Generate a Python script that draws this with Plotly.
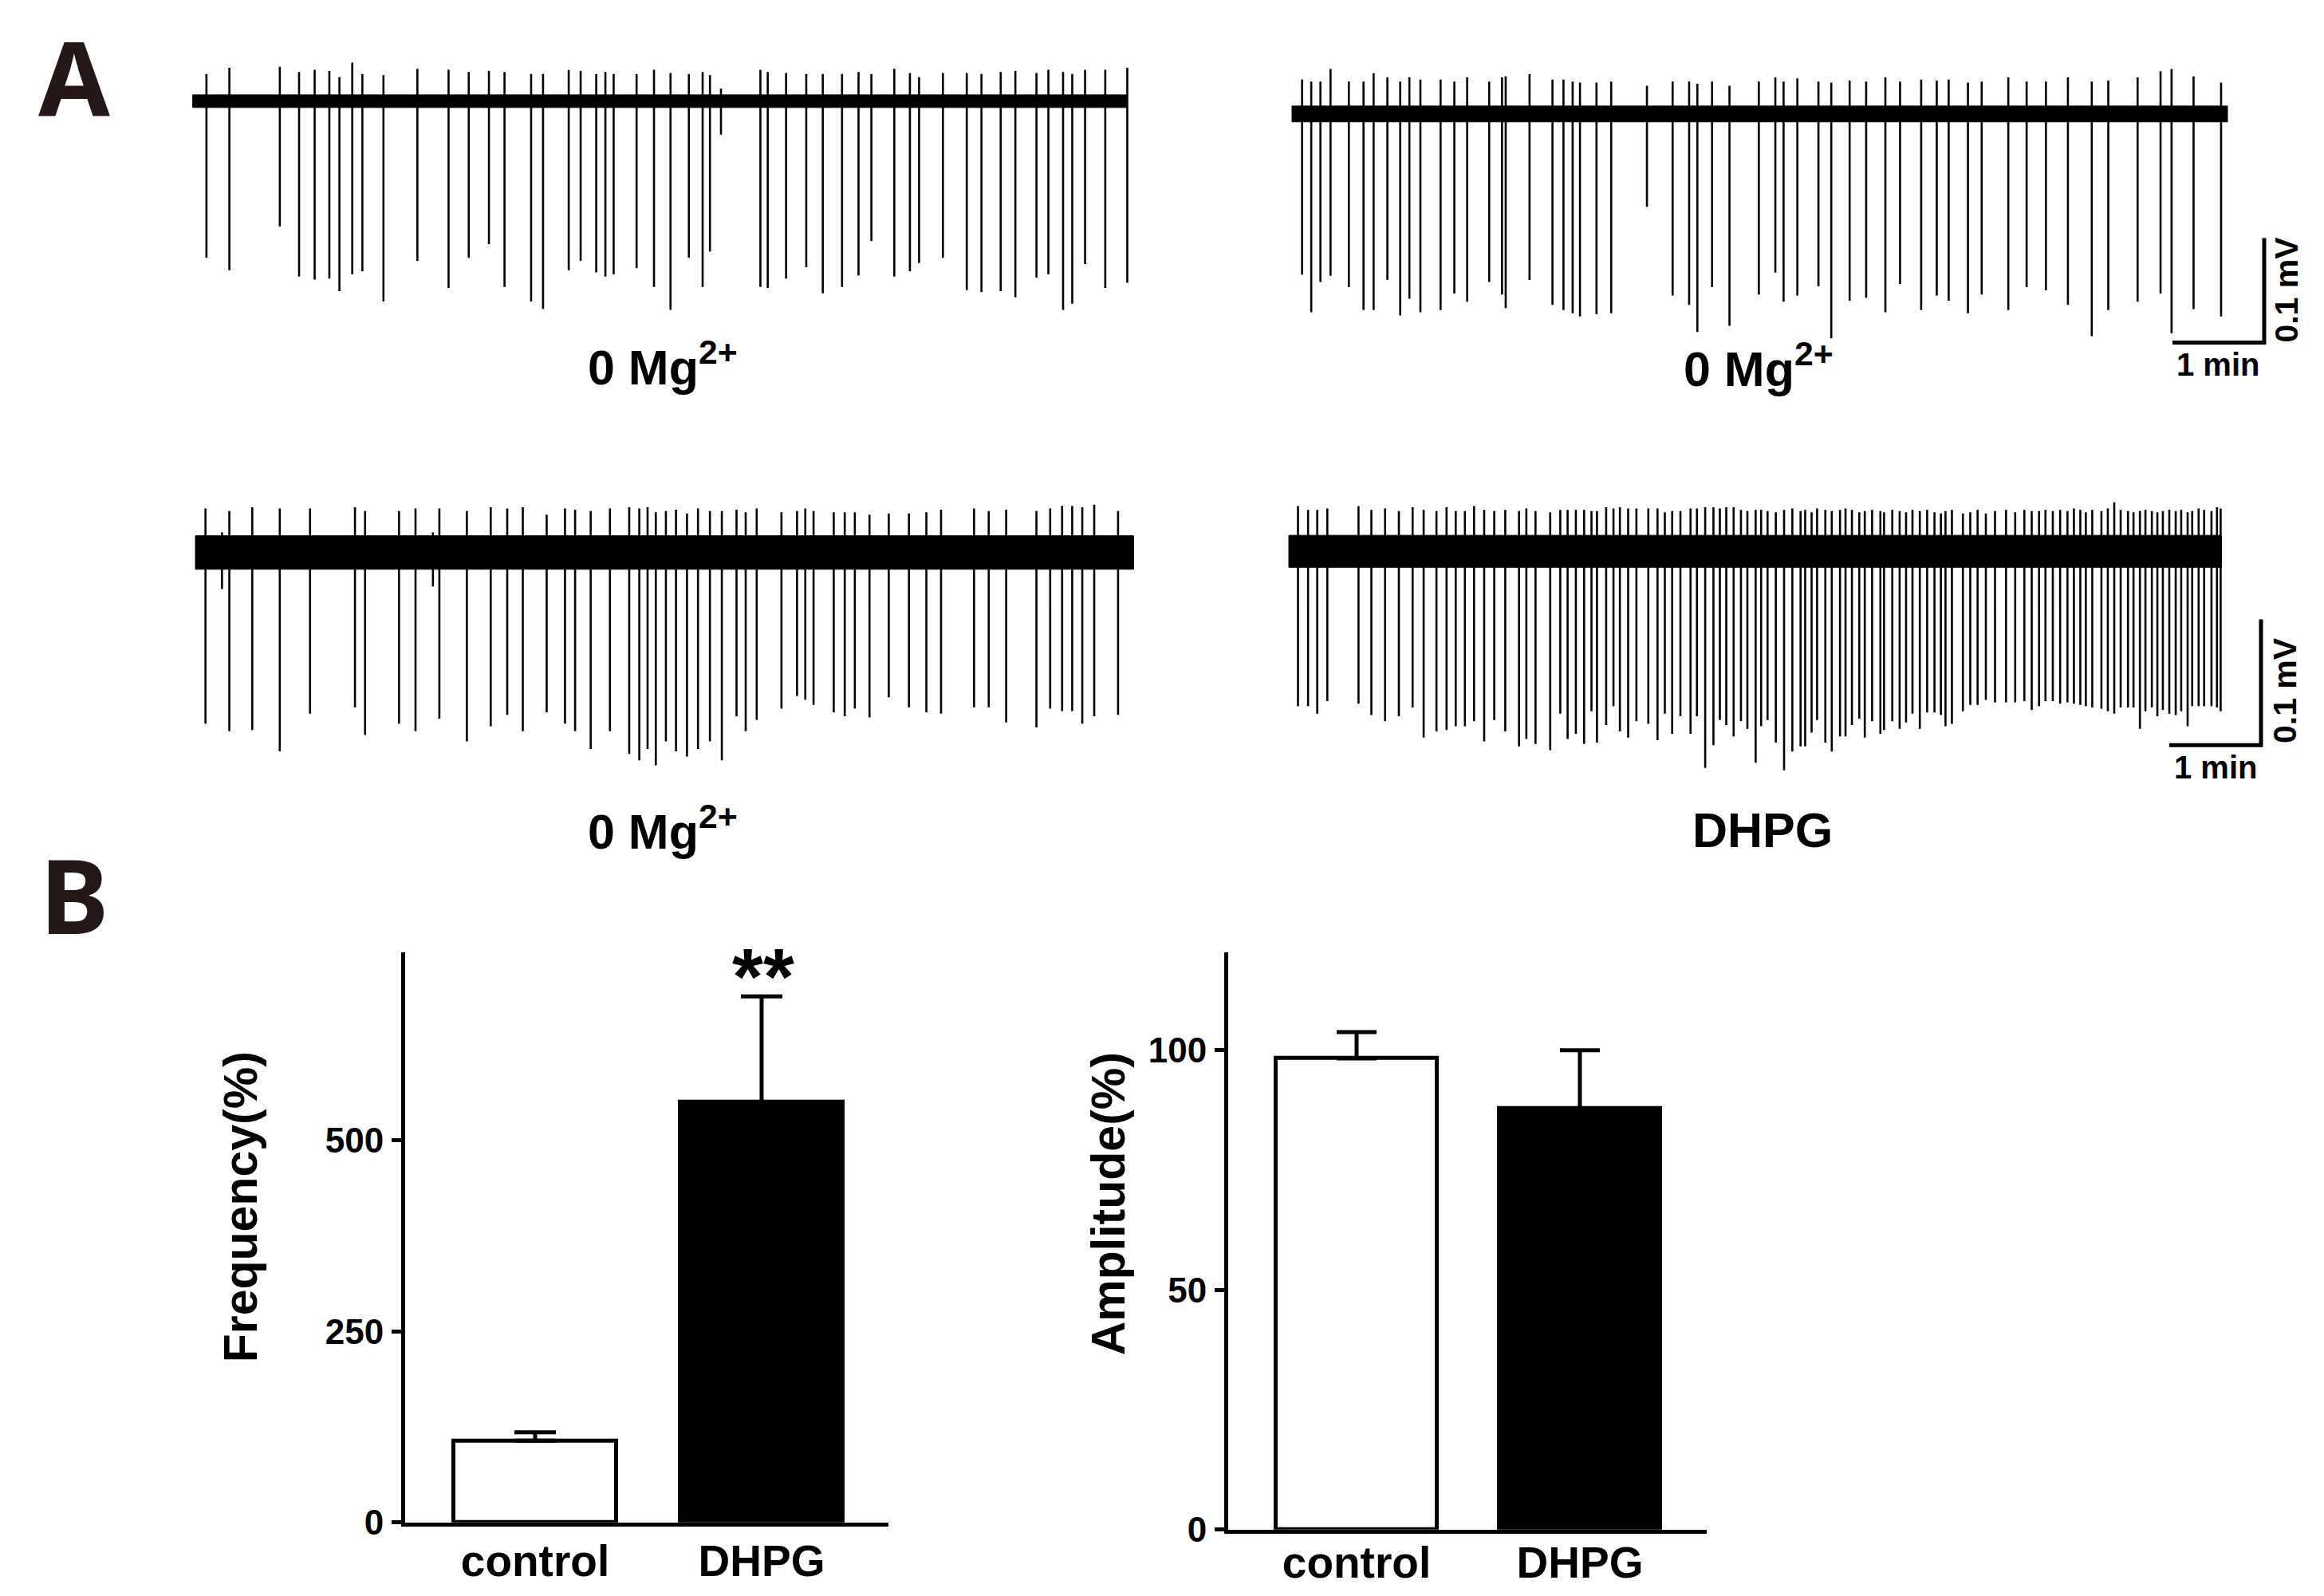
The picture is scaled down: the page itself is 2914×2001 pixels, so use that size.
import plotly.graph_objects as go

W, H = 2914, 2001

# ---------------- Panel A : spike trains (time in min, amplitude in mV) ----------------
trace1_t = [0.15, 0.40, 0.95, 1.16, 1.33, 1.49, 1.60, 1.74, 1.85, 2.08,
            2.45, 2.79, 3.01, 3.23, 3.40, 3.69, 3.82, 4.10, 4.23, 4.40,
            4.50, 4.59, 4.84, 5.03, 5.21, 5.41, 5.56, 5.64, 5.76, 6.19,
            6.27, 6.47, 6.69, 6.87, 7.08, 7.26, 7.40, 7.65, 7.82, 7.92,
            8.18, 8.44, 8.60, 8.81, 8.97, 9.20, 9.33, 9.49, 9.59, 9.73,
            9.95, 10.19]
trace1_down = [0.150, 0.162, 0.120, 0.168, 0.171, 0.170, 0.182, 0.166, 0.163, 0.192,
               0.153, 0.179, 0.150, 0.137, 0.178, 0.192, 0.199, 0.162, 0.153, 0.164,
               0.168, 0.166, 0.160, 0.178, 0.200, 0.150, 0.178, 0.144, 0.032, 0.178,
               0.179, 0.170, 0.159, 0.184, 0.178, 0.167, 0.134, 0.168, 0.163, 0.155,
               0.150, 0.181, 0.183, 0.182, 0.188, 0.169, 0.166, 0.200, 0.194, 0.156,
               0.179, 0.174]
trace1_up = [0.026, 0.032, 0.033, 0.028, 0.030, 0.029, 0.023, 0.037, 0.026, 0.025,
             0.031, 0.030, 0.028, 0.029, 0.028, 0.026, 0.026, 0.030, 0.029, 0.026,
             0.028, 0.026, 0.026, 0.030, 0.027, 0.026, 0.028, 0.025, 0.012, 0.030,
             0.028, 0.027, 0.026, 0.026, 0.026, 0.028, 0.026, 0.031, 0.027, 0.023,
             0.027, 0.027, 0.026, 0.028, 0.029, 0.027, 0.030, 0.028, 0.026, 0.030,
             0.030, 0.032]

trace2_t = [0.11, 0.21, 0.31, 0.42, 0.62, 0.78, 0.89, 1.04, 1.18, 1.28,
            1.40, 1.62, 1.77, 1.91, 2.15, 2.29, 2.33, 2.59, 2.84, 2.96,
            3.06, 3.14, 3.32, 3.48, 3.87, 4.15, 4.33, 4.42, 4.58, 4.77,
            5.09, 5.27, 5.36, 5.51, 5.74, 5.88, 6.08, 6.26, 6.47, 6.63,
            6.86, 7.03, 7.16, 7.37, 7.52, 7.81, 8.01, 8.22, 8.46, 8.72,
            8.90, 9.22, 9.47, 9.59, 9.83, 10.13]
trace2_down = [0.154, 0.190, 0.161, 0.155, 0.166, 0.188, 0.188, 0.159, 0.193, 0.177,
               0.190, 0.188, 0.172, 0.180, 0.161, 0.173, 0.186, 0.159, 0.183, 0.188,
               0.191, 0.194, 0.192, 0.191, 0.089, 0.174, 0.183, 0.209, 0.166, 0.203,
               0.173, 0.152, 0.180, 0.174, 0.165, 0.215, 0.179, 0.176, 0.190, 0.163,
               0.188, 0.174, 0.179, 0.191, 0.173, 0.188, 0.166, 0.169, 0.183, 0.213,
               0.188, 0.180, 0.172, 0.210, 0.187, 0.194]
trace2_up = [0.033, 0.031, 0.031, 0.043, 0.031, 0.031, 0.039, 0.035, 0.031, 0.035,
             0.033, 0.033, 0.031, 0.035, 0.031, 0.035, 0.036, 0.038, 0.033, 0.033,
             0.031, 0.030, 0.030, 0.031, 0.027, 0.031, 0.031, 0.029, 0.031, 0.027,
             0.031, 0.035, 0.031, 0.034, 0.031, 0.030, 0.032, 0.031, 0.035, 0.031,
             0.033, 0.032, 0.033, 0.030, 0.031, 0.035, 0.031, 0.031, 0.035, 0.031,
             0.032, 0.035, 0.041, 0.043, 0.036, 0.030]

trace3_t = [0.11, 0.29, 0.37, 0.62, 0.92, 1.25, 1.74, 1.85, 2.22, 2.40,
            2.59, 2.66, 2.96, 3.22, 3.40, 3.57, 3.83, 4.03, 4.14, 4.31,
            4.52, 4.73, 4.84, 4.93, 5.02, 5.13, 5.24, 5.36, 5.48, 5.61,
            5.74, 5.90, 6.00, 6.12, 6.39, 6.56, 6.65, 6.74, 6.96, 7.08,
            7.19, 7.35, 7.56, 7.78, 7.97, 8.13, 8.49, 8.65, 8.84, 9.17,
            9.32, 9.45, 9.56, 9.67, 9.80, 10.06]
trace3_down = [0.136, 0.029, 0.142, 0.141, 0.158, 0.128, 0.123, 0.145, 0.136, 0.142,
               0.027, 0.132, 0.150, 0.138, 0.129, 0.142, 0.127, 0.136, 0.142, 0.156,
               0.142, 0.160, 0.165, 0.156, 0.169, 0.150, 0.158, 0.162, 0.156, 0.150,
               0.165, 0.130, 0.142, 0.133, 0.124, 0.114, 0.117, 0.121, 0.127, 0.130,
               0.124, 0.131, 0.115, 0.123, 0.127, 0.128, 0.123, 0.123, 0.135, 0.139,
               0.124, 0.126, 0.126, 0.136, 0.130, 0.129]
trace3_up = [0.035, 0.016, 0.033, 0.036, 0.035, 0.035, 0.036, 0.033, 0.033, 0.035,
             0.016, 0.035, 0.033, 0.036, 0.035, 0.036, 0.030, 0.035, 0.034, 0.033,
             0.035, 0.036, 0.035, 0.036, 0.032, 0.033, 0.034, 0.031, 0.035, 0.033,
             0.033, 0.034, 0.032, 0.035, 0.032, 0.033, 0.035, 0.033, 0.032, 0.032,
             0.032, 0.030, 0.031, 0.031, 0.032, 0.034, 0.035, 0.033, 0.034, 0.033,
             0.035, 0.037, 0.037, 0.036, 0.038, 0.033]

trace4_t = [0.10, 0.21, 0.31, 0.42, 0.76, 0.90, 1.05, 1.20, 1.35, 1.47,
            1.61, 1.72, 1.82, 1.92, 2.02, 2.13, 2.24, 2.36, 2.51, 2.59,
            2.69, 2.85, 2.96, 3.04, 3.13, 3.22, 3.30, 3.36, 3.46, 3.54,
            3.61, 3.70, 3.79, 3.92, 4.02, 4.10, 4.18, 4.27, 4.38, 4.45,
            4.54, 4.63, 4.70, 4.77, 4.85, 4.93, 5.00, 5.09,
            5.15, 5.22, 5.31, 5.40, 5.49, 5.58, 5.63, 5.70, 5.76, 5.85,
            5.92, 6.01, 6.07, 6.14, 6.22, 6.28, 6.36, 6.45, 6.49, 6.58,
            6.66, 6.73, 6.80, 6.88, 6.96, 7.04, 7.11, 7.16, 7.23, 7.35,
            7.43, 7.51, 7.60, 7.70, 7.82, 7.92, 8.02, 8.10, 8.18, 8.25,
            8.33, 8.41, 8.49, 8.56, 8.63, 8.69, 8.76, 8.86, 8.93, 9.00,
            9.07, 9.15, 9.21, 9.28, 9.34, 9.41, 9.47, 9.53, 9.60, 9.67,
            9.73, 9.80, 9.85, 9.92, 9.98, 10.06, 10.12, 10.16]
trace4_down = [0.123, 0.123, 0.129, 0.119, 0.121, 0.130, 0.135, 0.131, 0.124, 0.148,
               0.143, 0.142, 0.139, 0.139, 0.135, 0.151, 0.134, 0.143, 0.155, 0.149,
               0.153, 0.158, 0.129, 0.149, 0.145, 0.153, 0.127, 0.152, 0.138, 0.123,
               0.143, 0.148, 0.135, 0.137, 0.150, 0.129, 0.145, 0.131, 0.145, 0.131,
               0.172, 0.154, 0.134, 0.138, 0.147, 0.135, 0.141, 0.168,
               0.139, 0.134, 0.152, 0.174, 0.159, 0.155, 0.155, 0.144, 0.134, 0.152,
               0.159, 0.147, 0.147, 0.138, 0.133, 0.148, 0.135, 0.145, 0.142, 0.135,
               0.141, 0.136, 0.129, 0.141, 0.128, 0.128, 0.130, 0.139, 0.137, 0.127,
               0.122, 0.122, 0.118, 0.120, 0.120, 0.120, 0.119, 0.126, 0.123, 0.119,
               0.119, 0.121, 0.120, 0.121, 0.122, 0.123, 0.124, 0.125, 0.127, 0.129,
               0.124, 0.124, 0.124, 0.141, 0.127, 0.124, 0.131, 0.126, 0.129, 0.130,
               0.127, 0.139, 0.123, 0.123, 0.123, 0.123, 0.124, 0.127]
trace4_up = [0.036, 0.033, 0.033, 0.034, 0.036, 0.033, 0.034, 0.032, 0.035, 0.033,
             0.032, 0.035, 0.032, 0.032, 0.036, 0.033, 0.032, 0.033, 0.032, 0.034,
             0.032, 0.031, 0.033, 0.033, 0.033, 0.033, 0.032, 0.032, 0.035, 0.034,
             0.035, 0.034, 0.034, 0.034, 0.034, 0.031, 0.032, 0.032, 0.034, 0.034,
             0.035, 0.035, 0.034, 0.035, 0.035, 0.033, 0.032, 0.033,
             0.033, 0.032, 0.031, 0.033, 0.034, 0.032, 0.033, 0.031, 0.034, 0.033,
             0.032, 0.033, 0.034, 0.033, 0.031, 0.032, 0.033, 0.032, 0.031, 0.033,
             0.032, 0.031, 0.033, 0.032, 0.033, 0.031, 0.030, 0.032, 0.033, 0.030,
             0.031, 0.033, 0.030, 0.032, 0.033, 0.031, 0.033, 0.032, 0.032, 0.033,
             0.032, 0.033, 0.032, 0.034, 0.033, 0.031, 0.033, 0.032, 0.034, 0.039,
             0.033, 0.032, 0.031, 0.032, 0.033, 0.032, 0.031, 0.032, 0.033, 0.032,
             0.033, 0.031, 0.032, 0.034, 0.033, 0.032, 0.035, 0.034]

trace_durations = [10.19, 10.20, 10.23, 10.17]        # min
noise_halfwidth = [0.0061, 0.0076, 0.0133, 0.0127]    # mV
trace_labels = ["0 Mg<sup>2+</sup>", "0 Mg<sup>2+</sup>", "0 Mg<sup>2+</sup>", "DHPG"]
scalebar_time = 1.0    # min
scalebar_volt = 0.1    # mV
scalebar_time_label = "1 min"
scalebar_volt_label = "0.1 mV"

# ---------------- Panel B : bar charts ----------------
categories = ["control", "DHPG"]
freq_mean = [107, 550]
freq_sem = [11, 138]
amp_mean = [98.3, 87.9]
amp_sem = [5.5, 12.1]
freq_ticks = [0, 250, 500]
amp_ticks = [0, 50, 100]
freq_title = "Frequency(%)"
amp_title = "Amplitude(%)"
sig_label = "**"

# ---------------- geometry (pixels) ----------------
YS = 1.011   # vertical compensation of the page capture
PX_PER_MIN = 115
geo = [
    dict(left=241.6, xdom=(234, 1424), base=127.0, ydom=(0, 560), pxmv=1310),
    dict(left=1620.0, xdom=(1612, 2914), base=143.0, ydom=(0, 560), pxmv=1310),
    dict(left=245.0, xdom=(238, 1432), base=693.5, ydom=(560, 1070), pxmv=1580),
    dict(left=1616.0, xdom=(1608, 2914), base=692.0, ydom=(560, 1070), pxmv=1580),
]
label_pos = [(831, 457), (2205, 459), (831, 1039), (2210, 1042)]
scalebar_geo = {2: dict(t0=9.6, v0=-0.219, tl=(2781, 458), vl=(2867, 364)),
                4: dict(t0=9.6, v0=-0.154, tl=(2778, 963), vl=(2865, 867))}

def px(xp, yp):
    return xp / W, 1 - yp * YS / H

def ydomain(top, bottom):
    return [1 - bottom * YS / H, 1 - top * YS / H]

fig = go.Figure()
layout_axes = {}

spike_sets = [(trace1_t, trace1_down, trace1_up), (trace2_t, trace2_down, trace2_up),
              (trace3_t, trace3_down, trace3_up), (trace4_t, trace4_down, trace4_up)]

for i, ((ts, downs, ups), g) in enumerate(zip(spike_sets, geo), start=1):
    xa, ya = f"x{i}", f"y{i}"
    dur = trace_durations[i - 1]
    hw = noise_halfwidth[i - 1]
    fig.add_trace(go.Scatter(x=[0, dur, dur, 0, 0], y=[-hw, -hw, hw, hw, -hw],
                             fill="toself", fillcolor="black", mode="lines",
                             line=dict(color="black", width=1), hoverinfo="skip",
                             showlegend=False, xaxis=xa, yaxis=ya))
    xs, ys = [], []
    for t, d, u in zip(ts, downs, ups):
        xs += [t, t, None]
        ys += [u, -d, None]
    fig.add_trace(go.Scatter(x=xs, y=ys, mode="lines", line=dict(color="black", width=2.6),
                             hoverinfo="skip", showlegend=False, xaxis=xa, yaxis=ya))
    if i in scalebar_geo:
        sb = scalebar_geo[i]
        fig.add_trace(go.Scatter(
            x=[sb["t0"], sb["t0"] + scalebar_time, sb["t0"] + scalebar_time],
            y=[sb["v0"], sb["v0"], sb["v0"] + scalebar_volt],
            mode="lines", line=dict(color="black", width=5), hoverinfo="skip",
            showlegend=False, xaxis=xa, yaxis=ya))
    x0 = (g["xdom"][0] - g["left"]) / PX_PER_MIN
    x1 = (g["xdom"][1] - g["left"]) / PX_PER_MIN
    y0 = -(g["ydom"][1] - g["base"]) / g["pxmv"]
    y1 = (g["base"] - g["ydom"][0]) / g["pxmv"]
    layout_axes[f"xaxis{i}"] = dict(domain=[g["xdom"][0] / W, g["xdom"][1] / W], range=[x0, x1],
                                    visible=False, anchor=ya, fixedrange=True)
    layout_axes[f"yaxis{i}"] = dict(domain=ydomain(g["ydom"][0], g["ydom"][1]),
                                    range=[y0, y1], visible=False, anchor=xa, fixedrange=True)

# bar charts
bar_colors = ["white", "black"]
fig.add_trace(go.Bar(x=[0, 1], y=freq_mean, width=0.72,
                     marker=dict(color=bar_colors, line=dict(color="black", width=5)),
                     error_y=dict(type="data", array=freq_sem, arrayminus=[0, 0], symmetric=False,
                                  color="black", thickness=5, width=26),
                     showlegend=False, hoverinfo="skip", xaxis="x5", yaxis="y5"))
fig.add_trace(go.Bar(x=[0, 1], y=amp_mean, width=0.72,
                     marker=dict(color=bar_colors, line=dict(color="black", width=5)),
                     error_y=dict(type="data", array=amp_sem, arrayminus=[0, 0], symmetric=False,
                                  color="black", thickness=5, width=25),
                     showlegend=False, hoverinfo="skip", xaxis="x6", yaxis="y6"))

FONT = "Liberation Sans, Arial, sans-serif"
def bar_xaxis(dom_px, rng, ya, standoff):
    return dict(domain=[dom_px[0] / W, dom_px[1] / W], range=rng, anchor=ya,
                showline=True, linewidth=5, linecolor="black", showgrid=False, zeroline=False,
                ticks="", tickvals=[0, 1], ticktext=categories,
                tickfont=dict(family=FONT, size=55, color="black", weight="bold"),
                ticklabelstandoff=standoff, fixedrange=True)

def bar_yaxis(dom_px, rng, tv, xa):
    return dict(domain=ydomain(dom_px[0], dom_px[1]), range=rng, anchor=xa,
                showline=True, linewidth=5, linecolor="black", showgrid=False, zeroline=False,
                ticks="outside", ticklen=12, tickwidth=5, tickcolor="black", tickvals=tv,
                tickfont=dict(family=FONT, size=44, color="black", weight="bold"),
                ticklabelstandoff=1, fixedrange=True)

layout_axes["xaxis5"] = bar_xaxis((508, 1114), [-0.574, 1.560], "y5", -4)
layout_axes["yaxis5"] = bar_yaxis((1195, 1911), [0, 746], freq_ticks, "x5")
layout_axes["xaxis6"] = bar_xaxis((1540, 2140), [-0.575, 1.568], "y6", -11)
layout_axes["yaxis6"] = bar_yaxis((1195, 1920), [0, 120.5], amp_ticks, "x6")

annotations = []
def ann(text, xp, yp, size, family=FONT, color="black", angle=0, bold=True):
    x, y = px(xp, yp)
    annotations.append(dict(text=(f"<b>{text}</b>" if bold else text), x=x, y=y,
                            xref="paper", yref="paper", showarrow=False,
                            xanchor="center", yanchor="middle", textangle=angle,
                            font=dict(size=size, family=family, color=color)))

ann("A", 93, 96, 130, family="Noto Sans, Liberation Sans", color="#231815")
ann("B", 93, 1122, 130, family="Noto Sans, Liberation Sans", color="#231815")
for lab, (lx, ly) in zip(trace_labels, label_pos):
    ann(lab, lx, ly, 61)
for sb in scalebar_geo.values():
    ann(scalebar_time_label, sb["tl"][0], sb["tl"][1], 40)
    ann(scalebar_volt_label, sb["vl"][0], sb["vl"][1], 41, angle=-90)
ann(freq_title, 302, 1515, 59, angle=-90)
ann(amp_title, 1390, 1511, 59, angle=-90)
ann(sig_label, 957, 1225, 100, bold=True)

fig.update_layout(width=W, height=H, margin=dict(l=0, r=0, t=0, b=0),
                  paper_bgcolor="white", plot_bgcolor="rgba(0,0,0,0)",
                  showlegend=False, annotations=annotations, bargap=0, **layout_axes)

fig.write_html("out.html", config={"displayModeBar": False},
               post_script="document.body.style.margin='0px';document.body.style.padding='0px';")
